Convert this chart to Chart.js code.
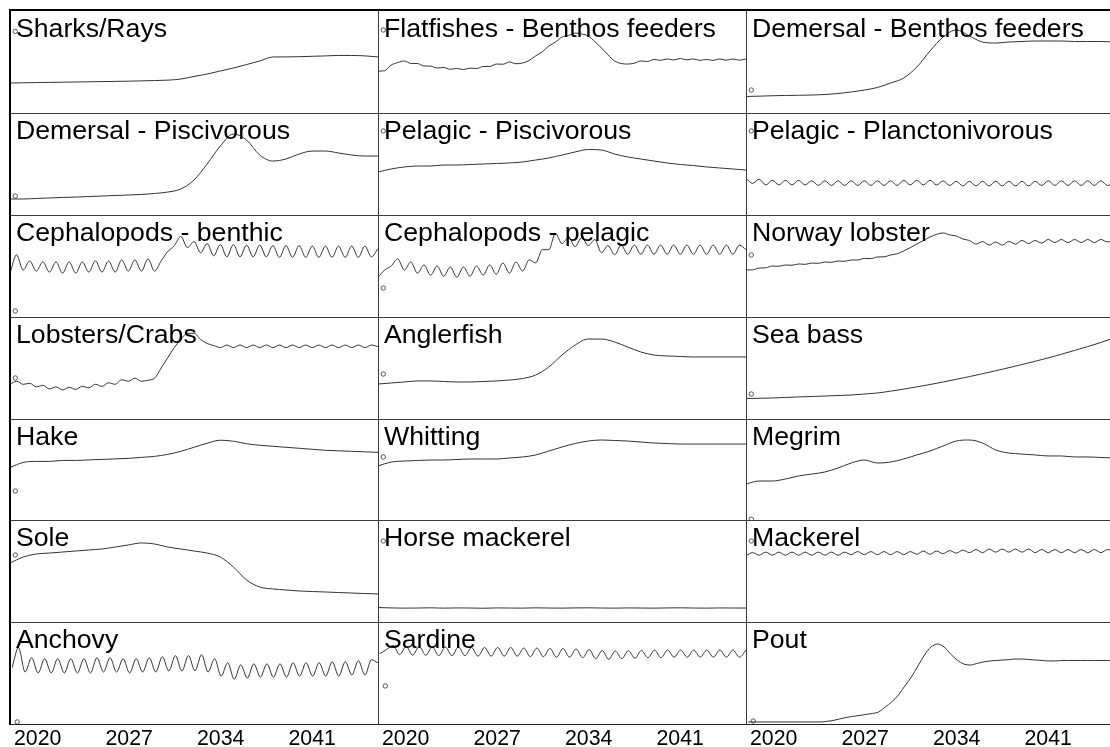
<!DOCTYPE html>
<html>
<head>
<meta charset="utf-8">
<script src="https://cdn.jsdelivr.net/npm/chart.js@4/dist/chart.umd.min.js"></script>
<style>
html, body { margin: 0; padding: 0; background: #fff; overflow: hidden; }
#wrap { position: relative; width: 1110px; height: 747px; overflow: hidden; }
.cell { position: absolute; }
.cell canvas { position: absolute; left: 0; top: 0; }
.ttl { position: absolute; left: 6px; top: 2px; font: 26.67px 'Liberation Sans', Arial, sans-serif; line-height: 30px; color: #000; white-space: nowrap; pointer-events: none; }
.ln { position: absolute; background: #3c3c3c; }
</style>
</head>
<body>
<div id="wrap"></div>
<script>
// time axis (years) and bottom tick labels
const yearStart = 2020;
const yearEnd = 2048;
const tickYears = [2020, 2027, 2034, 2041];
const markerYear = 2020.4;

const groups = [
    'Sharks/Rays', 'Flatfishes - Benthos feeders', 'Demersal - Benthos feeders',
    'Demersal - Piscivorous', 'Pelagic - Piscivorous', 'Pelagic - Planctonivorous',
    'Cephalopods - benthic', 'Cephalopods - pelagic', 'Norway lobster',
    'Lobsters/Crabs', 'Anglerfish', 'Sea bass',
    'Hake', 'Whitting', 'Megrim',
    'Sole', 'Horse mackerel', 'Mackerel',
    'Anchovy', 'Sardine', 'Pout'
];

// relative biomass, 0-100 of each panel (yearly or half-yearly samples)
const sharksRays = [29.4, 29.6, 29.8, 30, 30.2, 30.4, 30.6, 30.8, 31, 31.2, 31.5, 31.8, 32.2, 33.3, 35.8, 38.2, 41.2, 44.1, 47.5, 51, 54.9, 55, 55.2, 55.6, 56, 56.4, 56.4, 56, 55];
const flatfishes = [41, 41.5, 47, 49.5, 51, 48.6, 48.5, 46.1, 46, 44.1,
    44.6, 42.9, 43.6, 42.6, 44, 43.6, 45.6, 45.6, 48, 47.8,
    50, 48.3, 49, 51.5, 56, 60, 65.7, 69.5, 74.5, 76,
    78.4, 77.5, 75.5, 70, 63.7, 57, 51, 48.5, 48, 48.8,
    51, 50.5, 52.5, 51.6, 53, 52, 53.4, 52.2, 53, 51.6,
    52.5, 51.6, 53, 51.8, 53, 51.8, 53];
const demersalBenthos = [16.2, 16.5, 16.9, 17.2, 17.4, 17.6, 18.1, 19.1, 20.6, 22.5, 25, 29.4, 34.3, 45.1, 60.8, 74.5, 81.4, 75.5, 69.6, 68.6, 69.6, 70.1, 70.6, 70.6, 70.6, 70.1, 70.1, 70.1, 69.6];
const demersalPisc = [15.7, 15.7, 16.2, 16.7, 17.2, 17.6, 18.1, 18.6, 19.1, 19.6, 20.1, 21.1, 22.5, 25.5, 34.3, 50, 67.6, 79.4, 73.5, 58.8, 52.9, 54.9, 59.8, 62.7, 62.7, 60.8, 58.8, 57.8, 57.8];
const pelagicPisc = [42.2, 45.1, 47.1, 48, 48, 49, 49, 49.5, 50, 50.5, 51, 52, 53.9, 55.9, 58.8, 61.8, 64.2, 63.7, 59.8, 56.9, 54.9, 52.9, 51, 49.5, 48.5, 47.1, 46.1, 45.1, 44.1];
const pelagicPlanct = [36, 31, 35, 29.5, 34, 29.5, 34, 29.5, 34, 29.5,
    33.5, 29, 33.5, 29, 33.5, 29, 33.5, 29, 33.5, 29,
    33.5, 29, 33.5, 29, 34, 29.5, 34, 29.5, 34, 29.5,
    33.5, 29, 33, 28.5, 33, 28.5, 33, 28.5, 33, 28.5,
    33, 28.5, 33, 28.5, 33, 29, 33.5, 29, 33.5, 29,
    33.5, 29, 33.5, 29, 33.5, 29, 31];
const cephBenthic = [43, 61, 46, 55, 45, 54, 44, 54, 43, 54,
    43, 54, 44, 55, 44, 55, 44, 56, 45, 56,
    45, 57, 45, 55, 64, 70, 79, 68, 74, 63,
    72, 60, 71, 59, 71, 59, 70.5, 59, 70.5, 59,
    70, 58.5, 70, 58.5, 70, 58.5, 69.5, 58.5, 69.5, 58.5,
    69.5, 58.5, 69.5, 58.5, 69.5, 59, 67];
const cephPelagic = [39, 46, 50, 57, 46, 54, 43, 51, 41, 50,
    40, 49, 39, 49, 40, 50, 41, 51, 42, 53,
    43, 54, 45, 56, 53, 66, 66, 82, 72, 78,
    69, 78, 70, 76, 63, 70, 61, 70.5, 61.5, 70.5,
    61.5, 70.5, 61.5, 70.5, 61.5, 70.5, 61.5, 70.5, 61.5, 70.5,
    61.5, 70.5, 61.5, 70.5, 61.5, 70.5, 66];
const norwayLobster = [46.1, 46.2, 48, 48.2, 50, 49.7, 51, 50.7, 52, 51.6,
    52.9, 52.6, 53.9, 53.6, 54.9, 54.6, 55.9, 55.9, 57.4, 57.3,
    58.8, 59, 60.8, 62, 64.7, 68, 71.6, 75, 78.4, 81,
    82.4, 80.5, 79.4, 76.5, 75, 71.5, 74, 70.5, 73.5, 70.5,
    74, 71.5, 75, 72, 75, 72.5, 76, 73, 76, 73,
    76, 73, 76, 73, 76, 73.5, 75.5];
const lobstersCrabs = [34, 37, 34, 35, 31.5, 33, 29.5, 31.5, 28.5, 31,
    29, 32, 30.5, 34, 32, 35.5, 34, 38.5, 37, 40,
    37, 38, 40, 50, 60, 70, 78, 84, 84, 78,
    74, 72, 70, 72.5, 70, 72.5, 70, 72.5, 70, 72.5,
    70, 72.5, 70, 72.5, 70, 72.5, 70, 72.5, 70, 72.5,
    70, 72.5, 70, 72.5, 70, 72.5, 71];
const anglerfish = [34.3, 35.3, 36.3, 37.3, 37.3, 36.8, 36.3, 36.3, 36.8, 37.3, 38.2, 39.7, 43.1, 51, 62.7, 72.5, 78.4, 78.4, 75.5, 70.6, 65.7, 62.7, 61.8, 61.3, 60.8, 60.8, 60.8, 60.8, 60.8];
const seaBass = [20.1, 20.3, 20.6, 21.1, 21.6, 22.1, 22.5, 23, 23.5, 24.5, 25.5, 27.3, 29.3, 31.5, 33.8, 36.3, 38.9, 41.6, 44.4, 47.3, 50.3, 53.4, 56.6, 59.9, 63.5, 67.2, 71, 75, 79.5];
const hake = [52, 57, 58, 58, 59, 59, 59.5, 60, 60.5, 61, 62, 63, 65, 68, 72, 76, 79, 78, 75.5, 74, 73, 72, 71, 70, 69, 68.5, 68, 67.5, 67];
const whitting = [53.5, 57.4, 58.4, 58.9, 59.4, 59.4, 59.9, 60.4, 60.4, 60.4, 61.4, 62.4, 64.4, 68.3, 72.3, 75.7, 78.2, 79.2, 78.7, 78.2, 77.2, 76.2, 75.7, 75.2, 75.2, 75.2, 75.2, 75.2, 75.2];
const megrim = [35.6, 38.6, 38.6, 40.6, 43.6, 45.5, 47.5, 51.5, 56.4, 59.4, 56.4, 57.4, 60.4, 64.4, 68.3, 73.3, 78.2, 79.2, 76.2, 69.3, 66.3, 65.3, 64.4, 63.4, 63.4, 62.4, 62.4, 61.9, 61.4];
const sole = [57.8, 63.7, 66.7, 67.6, 68.6, 69.6, 70.6, 71.6, 73.5, 75.5, 77.5, 76.5, 73.5, 71.6, 69.6, 67.6, 63.7, 53.9, 41.2, 34.3, 32.4, 31.4, 30.4, 29.9, 29.4, 28.9, 28.4, 27.9, 27.5];
const horseMackerel = [14.2, 13.8, 13.6, 13.7, 13.9, 13.6, 13.8, 13.7, 13.5, 13.8, 13.7, 13.6, 13.9, 13.7, 13.6, 13.8, 13.9, 13.7, 13.6, 13.8, 13.7, 13.6, 13.8, 13.9, 13.7, 13.6, 13.8, 13.7, 13.7];
const mackerel = [65, 68, 65.5, 68.5, 65.5, 68.5, 65.5, 68.5, 65.5, 68.5,
    65.5, 68.5, 65.5, 68.5, 65.5, 68.5, 66, 69, 66, 69,
    66, 69, 66, 69, 66, 69, 66.5, 69.5, 66.5, 69.5,
    67, 70, 67.5, 70.5, 68, 71, 68, 71.5, 68.5, 71.5,
    68.5, 71.5, 68.5, 71.5, 68, 71, 68, 71, 68, 71,
    68, 71, 68, 71, 68, 71, 69];
const anchovy = [55, 75, 51, 65, 50, 64, 50, 64, 50, 64,
    50, 64, 50, 65, 51, 65, 51, 64, 50, 64,
    51, 65, 51, 66, 52, 67, 52, 67, 52, 68,
    51, 64, 47, 60, 44, 58, 45, 59, 46, 59,
    46, 59, 46, 60, 47, 60, 47, 60, 47, 61,
    47, 61, 48, 62, 48, 63, 60];
const sardine = [69, 73, 77, 68, 76, 67.5, 76, 67.5, 75.5, 67,
    75.5, 67, 75.5, 67, 75, 66.5, 75, 66.5, 75, 66.5,
    75, 66.5, 74.5, 66, 74.5, 66, 74, 65.5, 74, 65.5,
    73.5, 65, 73, 64, 72, 63.5, 71.5, 64, 72, 64.5,
    72, 65, 72.5, 65, 72.5, 65.5, 72.5, 65.5, 72.5, 65.5,
    72.5, 65.5, 72.5, 65.5, 72.5, 65.5, 72.5];
const pout = [2, 2, 2, 2, 2, 2, 2, 2, 2, 2,
    2, 2, 2.5, 3.4, 4.9, 6.4, 7.4, 8.3, 9.3, 10.3,
    11.8, 16.7, 21.6, 28.4, 37.3, 46.1, 56.9, 67.6, 75.5, 78.4,
    75.5, 68.6, 62.7, 58.8, 57.8, 59.3, 60.8, 61.8, 62.3, 62.7,
    63.2, 63.7, 63.7, 63.2, 62.7, 62.3, 61.8, 61.8, 62.3, 62.3,
    62.3, 62.3, 62.3, 62.3, 62.3, 62.3, 62.3];

// observed start value (small circle) per panel
const startMarkers = [80, 81.4, 22.5, 18.6, 82.4, 82.4, 5.9, 28.4, 60.8, 40.2, 44.1, 24.5, 28.7, 62.4, 0.8, 65.7, 79.4, 79.4, 2, 37.3, 2.9];

const seriesList = [sharksRays, flatfishes, demersalBenthos, demersalPisc, pelagicPisc, pelagicPlanct,
    cephBenthic, cephPelagic, norwayLobster, lobstersCrabs, anglerfish, seaBass,
    hake, whitting, megrim, sole, horseMackerel, mackerel, anchovy, sardine, pout];

const colLeft = [10, 378, 746];
const colWidth = 368;
const rowTop = [11, 113, 215, 317, 419, 520, 622, 724];
const axisHeight = 23;

const wrap = document.getElementById('wrap');

function addLine(x, y, w, h, color) {
    const d = document.createElement('div');
    d.className = 'ln';
    d.style.left = x + 'px';
    d.style.top = y + 'px';
    d.style.width = w + 'px';
    d.style.height = h + 'px';
    if (color) d.style.background = color;
    wrap.appendChild(d);
}

groups.forEach((name, i) => {
    const row = Math.floor(i / 3), col = i % 3;
    const bottomRow = row === 6;
    const h = rowTop[row + 1] - rowTop[row];
    const cell = document.createElement('div');
    cell.className = 'cell';
    cell.style.left = colLeft[col] + 'px';
    cell.style.top = rowTop[row] + 'px';
    cell.style.width = colWidth + 'px';
    cell.style.height = (h + (bottomRow ? axisHeight : 0)) + 'px';
    const canvas = document.createElement('canvas');
    canvas.width = colWidth;
    canvas.height = h + (bottomRow ? axisHeight : 0);
    cell.appendChild(canvas);
    const title = document.createElement('div');
    title.className = 'ttl';
    title.textContent = name;
    cell.appendChild(title);
    wrap.appendChild(cell);

    const values = seriesList[i];
    const step = (yearEnd - yearStart) / (values.length - 1);

    const xScale = {
        type: 'linear',
        min: yearStart,
        max: yearEnd,
        display: bottomRow,
        grid: {display: false, drawTicks: false},
        border: {display: false},
        afterBuildTicks: s => { s.ticks = tickYears.map(v => ({value: v})); },
        ticks: {
            align: 'start',
            labelOffset: 2,
            padding: 2,
            autoSkip: false,
            maxRotation: 0,
            color: '#000',
            font: {family: "'Liberation Sans', Arial, sans-serif", size: 21.33},
            callback: v => String(v)
        }
    };
    if (bottomRow) xScale.afterFit = s => { s.height = axisHeight; };

    new Chart(canvas, {
        type: 'line',
        data: {
            datasets: [{
                data: values.map((v, k) => ({x: yearStart + k * step, y: v})),
                borderColor: '#333',
                borderWidth: 1,
                pointRadius: 0,
                cubicInterpolationMode: 'monotone',
                fill: false
            }, {
                data: [{x: markerYear, y: startMarkers[i]}],
                showLine: false,
                pointRadius: 2.2,
                pointHoverRadius: 0,
                pointBorderWidth: 1,
                pointBorderColor: '#555',
                pointBackgroundColor: '#fff'
            }]
        },
        options: {
            responsive: false,
            animation: false,
            events: [],
            layout: {padding: 0, autoPadding: false},
            plugins: {
                legend: {display: false},
                tooltip: {enabled: false}
            },
            scales: {
                x: xScale,
                y: {min: 0, max: 100, display: false}
            }
        }
    });
});

// panel frame
[113, 215, 317, 419, 520, 622].forEach(y => addLine(10, y, 1110, 1));
addLine(10, 724, 1110, 1, '#222');
[378, 746].forEach(x => addLine(x, 10, 1, 715));
addLine(9, 9, 1110, 2, '#000');
addLine(9, 9, 2, 716, '#000');
</script>
</body>
</html>
